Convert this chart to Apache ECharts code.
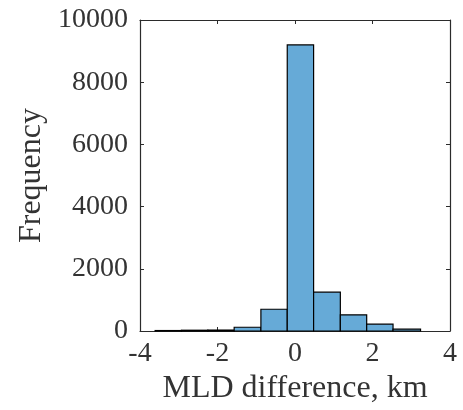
<!DOCTYPE html>
<html>
<head>
<meta charset="utf-8">
<script src="https://cdn.jsdelivr.net/npm/echarts@6/dist/echarts.min.js"></script>
<style>
  html, body { margin: 0; padding: 0; background: #ffffff; }
  #chart { width: 463px; height: 410px; }
</style>
</head>
<body>
<div id="chart"></div>
<script>
// Histogram of mixed-layer-depth differences (10 bins)
var binEdges = [-3.61, -2.93, -2.25, -1.57, -0.88, -0.20, 0.48, 1.17, 1.85, 2.53, 3.24];
var counts = [15, 25, 30, 120, 700, 9200, 1250, 520, 220, 60];
var xTicks = [-4, -2, 0, 2, 4];
var yTicks = [0, 2000, 4000, 6000, 8000, 10000];

var bins = counts.map(function (c, i) {
  return [binEdges[i], binEdges[i + 1], c];
});

var axisColor = '#2b2b2b';
var textColor = '#333333';
var fontFamily = '"Liberation Serif", "DejaVu Serif", serif';

function plain(v) { return String(v); }

function frameAxis(pos, min, max, interval) {
  return {
    type: 'value', min: min, max: max, interval: interval, position: pos,
    axisLine: { show: true, onZero: false, lineStyle: { color: axisColor, width: 1.2 } },
    axisTick: { show: true, inside: true, length: 4, lineStyle: { color: axisColor } },
    axisLabel: { show: false },
    splitLine: { show: false }
  };
}

var chart = echarts.init(document.getElementById('chart'), null, { renderer: 'canvas' });

chart.setOption({
  animation: false,
  backgroundColor: '#ffffff',
  grid: { left: 140, right: 13, top: 20, bottom: 79 },
  xAxis: [{
    type: 'value', min: xTicks[0], max: xTicks[xTicks.length - 1], interval: 2,
    position: 'bottom',
    name: 'MLD difference, km', nameLocation: 'middle', nameGap: 42,
    nameTextStyle: { fontFamily: fontFamily, fontSize: 32, color: textColor },
    axisLine: { show: true, onZero: false, lineStyle: { color: axisColor, width: 1.2 } },
    axisTick: { show: true, inside: true, length: 4, lineStyle: { color: axisColor } },
    axisLabel: { margin: 9, fontFamily: fontFamily, fontSize: 28, color: textColor, formatter: plain },
    splitLine: { show: false }
  }, frameAxis('top', xTicks[0], xTicks[xTicks.length - 1], 2)],
  yAxis: [{
    type: 'value', min: yTicks[0], max: yTicks[yTicks.length - 1], interval: 2000,
    position: 'left',
    name: 'Frequency', nameLocation: 'middle', nameGap: 78, nameRotate: 90,
    nameTextStyle: { fontFamily: fontFamily, fontSize: 32, color: textColor },
    axisLine: { show: true, onZero: false, lineStyle: { color: axisColor, width: 1.2 } },
    axisTick: { show: true, inside: true, length: 4, lineStyle: { color: axisColor } },
    axisLabel: { margin: 12, fontFamily: fontFamily, fontSize: 28, color: textColor, formatter: plain },
    splitLine: { show: false }
  }, frameAxis('right', yTicks[0], yTicks[yTicks.length - 1], 2000)],
  series: [{
    type: 'custom',
    xAxisIndex: 0,
    yAxisIndex: 0,
    data: bins,
    renderItem: function (params, api) {
      var p0 = api.coord([api.value(0), api.value(2)]);
      var p1 = api.coord([api.value(1), 0]);
      return {
        type: 'rect',
        shape: { x: p0[0], y: p0[1], width: p1[0] - p0[0], height: p1[1] - p0[1] },
        style: { fill: '#66aad7', stroke: '#000000', lineWidth: 1.2 }
      };
    }
  }]
});
</script>
</body>
</html>
